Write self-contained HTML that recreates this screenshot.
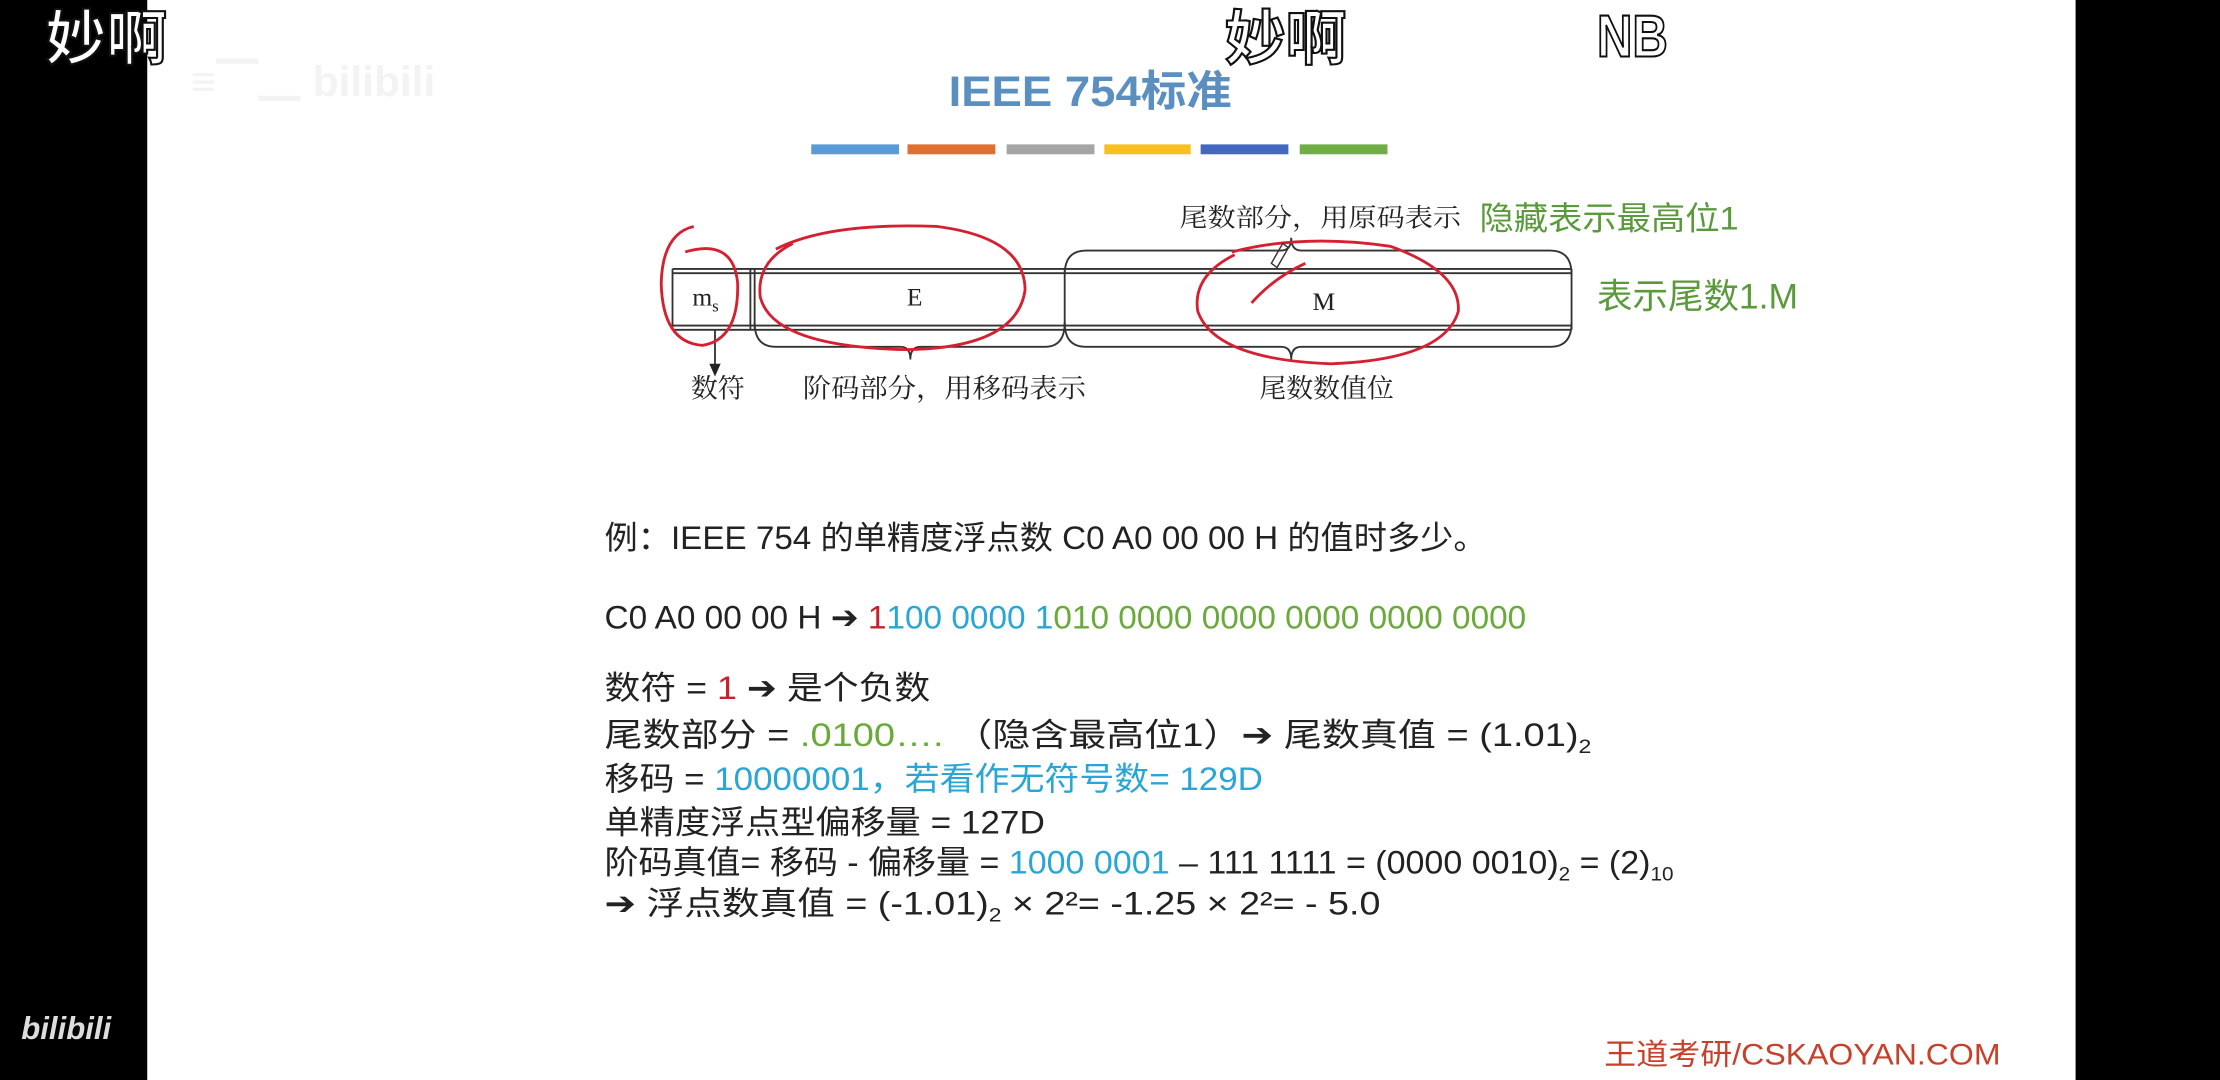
<!DOCTYPE html>
<html><head><meta charset="utf-8"><style>
html,body{margin:0;padding:0;background:#000;width:2220px;height:1080px;overflow:hidden}
svg{display:block}
text{font-family:"Liberation Sans","Noto Sans CJK SC",sans-serif}
.s{font-family:"Liberation Serif","Noto Serif CJK SC",serif}
</style></head><body>
<svg width="2220" height="1080" viewBox="0 0 1568 763" preserveAspectRatio="none" xmlns="http://www.w3.org/2000/svg">
<rect x="0" y="0" width="1568" height="763" fill="#000"/>
<rect x="104" y="0" width="1362" height="763" fill="#fff"/>
<!-- watermark -->
<text x="135" y="68" font-size="30" fill="#f3f3f3" font-weight="bold">≡▔▁ bilibili</text>
<!-- title -->
<text x="770" y="75" font-size="30" font-weight="bold" fill="#5b8fc0" text-anchor="middle" textLength="200" lengthAdjust="spacingAndGlyphs">IEEE 754标准</text>
<rect x="573" y="102" width="62" height="7" fill="#5b9bd5"/>
<rect x="641" y="102" width="62" height="7" fill="#e07030"/>
<rect x="711" y="102" width="62" height="7" fill="#a5a5a5"/>
<rect x="780" y="102" width="61" height="7" fill="#f5c020"/>
<rect x="848" y="102" width="62" height="7" fill="#4468c0"/>
<rect x="918" y="102" width="62" height="7" fill="#70ad47"/>
<!-- diagram -->
<g stroke="#333" fill="none" stroke-width="1.3">
<line x1="475" y1="190" x2="1110" y2="190"/><line x1="475" y1="193" x2="1110" y2="193"/>
<line x1="475" y1="230" x2="1110" y2="230"/><line x1="475" y1="233" x2="1110" y2="233"/>
<line x1="475" y1="190" x2="475" y2="233"/>
<line x1="530" y1="190" x2="530" y2="233"/><line x1="533" y1="190" x2="533" y2="233"/>
<line x1="752" y1="190" x2="752" y2="233"/>
<line x1="1110" y1="190" x2="1110" y2="233"/>
<path d="M533 228 Q533 245 548 245 L636 245 Q643 245 643 254 Q643 245 650 245 L738 245 Q752 245 752 228"/>
<path d="M752 228 Q752 245 767 245 L905 245 Q912 245 912 254 Q912 245 919 245 L1095 245 Q1110 245 1110 228"/>
<path d="M752 194 Q752 177 767 177 L905 177 Q912 177 912 168 Q912 177 919 177 L1095 177 Q1110 177 1110 194"/>
<line x1="505" y1="233" x2="505" y2="258"/>
</g>
<polygon points="501,257 509,257 505,266" fill="#222"/>
<text class="s" x="489" y="216" font-size="18" fill="#222">m<tspan font-size="12" dy="4">s</tspan></text>
<text class="s" x="646" y="216" font-size="18" fill="#222" text-anchor="middle">E</text>
<text class="s" x="935" y="219" font-size="18" fill="#222" text-anchor="middle">M</text>
<text class="s" x="507" y="281" font-size="19" fill="#222" text-anchor="middle">数符</text>
<text class="s" x="567" y="281" font-size="19" fill="#222" textLength="200" lengthAdjust="spacingAndGlyphs">阶码部分，用移码表示</text>
<text class="s" x="937" y="281" font-size="19" fill="#222" text-anchor="middle">尾数数值位</text>
<text class="s" x="833" y="160" font-size="18" fill="#222" textLength="199" lengthAdjust="spacingAndGlyphs">尾数部分，用原码表示</text>
<text x="1045" y="162" font-size="23" fill="#5a9a3a" textLength="183" lengthAdjust="spacingAndGlyphs">隐藏表示最高位1</text>
<text x="1128" y="218" font-size="25" fill="#5a9a3a" textLength="142" lengthAdjust="spacingAndGlyphs">表示尾数1.M</text>
<!-- red annotations -->
<g stroke="#d42030" stroke-width="2" fill="none">
<path d="M490 160 Q468 165 467 200 Q468 242 496 244 Q522 240 521 200 Q518 168 484 178"/>
<path d="M548 176 Q585 157 662 160 Q724 168 724 205 Q718 246 640 247 Q546 245 537 210 Q534 185 560 172"/>
<path d="M870 178 Q920 165 982 174 Q1032 192 1030 220 Q1020 254 940 257 Q858 254 846 220 Q842 195 872 180"/>
<path d="M884 214 Q900 196 922 186"/>
</g>
<path d="M898 186 L906 172 L910 175 L902 189 Z" fill="none" stroke="#333" stroke-width="1"/>
<!-- example text -->
<g font-size="23" fill="#222">
<text x="427" y="388" textLength="623" lengthAdjust="spacingAndGlyphs">例：IEEE 754 的单精度浮点数 C0 A0 00 00 H 的值时多少。</text>
<text x="427" y="444" textLength="651" lengthAdjust="spacingAndGlyphs">C0 A0 00 00 H ➔  <tspan fill="#c8202c">1</tspan><tspan fill="#2aa6d6">100 0000 1</tspan><tspan fill="#6aaa3a">010 0000 0000 0000 0000 0000</tspan></text>
<text x="427" y="494" textLength="230" lengthAdjust="spacingAndGlyphs">数符 = <tspan fill="#c8202c">1</tspan> ➔ 是个负数</text>
<text x="427" y="527" textLength="697" lengthAdjust="spacingAndGlyphs">尾数部分 =  <tspan fill="#6aaa3a">.0100….</tspan>   （隐含最高位1）➔ 尾数真值 = (1.01)<tspan font-size="14" dy="5">2</tspan></text>
<text x="427" y="558" textLength="465" lengthAdjust="spacingAndGlyphs">移码 = <tspan fill="#2aa6d6">10000001，若看作无符号数= 129D</tspan></text>
<text x="427" y="589" textLength="311" lengthAdjust="spacingAndGlyphs">单精度浮点型偏移量 = 127D</text>
<text x="427" y="617" textLength="755" lengthAdjust="spacingAndGlyphs">阶码真值= 移码 - 偏移量 = <tspan fill="#2aa6d6">1000 0001</tspan> – 111 1111 = (0000 0010)<tspan font-size="14" dy="5">2</tspan><tspan dy="-5"> = (2)</tspan><tspan font-size="14" dy="5">10</tspan></text>
<text x="427" y="646" textLength="548" lengthAdjust="spacingAndGlyphs">➔  浮点数真值 = (-1.01)<tspan font-size="14" dy="5">2</tspan><tspan dy="-5"> × 2²=  -1.25 × 2²=  - 5.0</tspan></text>
</g>
<text x="1133" y="752" font-size="21" fill="#c8402a" textLength="280" lengthAdjust="spacingAndGlyphs">王道考研/CSKAOYAN.COM</text>
<!-- danmaku -->
<g font-size="42" fill="#fff" stroke="#111" stroke-width="1.5" font-weight="bold">
<text x="32" y="42" textLength="86" lengthAdjust="spacingAndGlyphs">妙啊</text>
<text x="865" y="42" textLength="86" lengthAdjust="spacingAndGlyphs">妙啊</text>
<text x="1128" y="40" textLength="50" lengthAdjust="spacingAndGlyphs">NB</text>
</g>
<text x="15" y="734" font-size="22" fill="#ddd" font-weight="bold" font-style="italic">bilibili</text>
</svg>
</body></html>
